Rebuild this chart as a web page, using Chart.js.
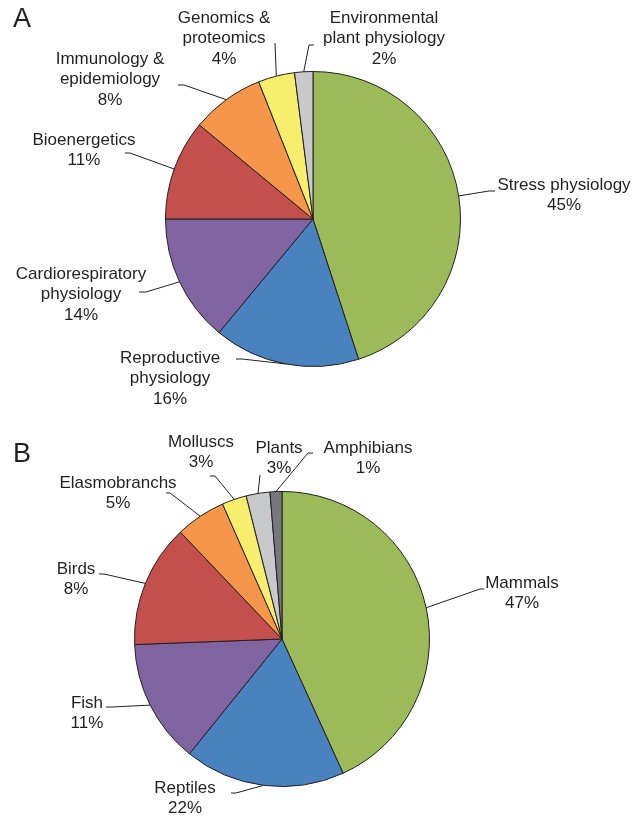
<!DOCTYPE html>
<html>
<head>
<meta charset="utf-8">
<script src="https://cdn.jsdelivr.net/npm/chart.js@4.4.1/dist/chart.umd.min.js"></script>
<style>
  body { margin: 0; background: #fff; }
  .panel { position: absolute; left: 0; }
  .tag { position: absolute; left: 13px; z-index: 2; font: 27px "Liberation Sans", Arial, sans-serif; color: #231f20; }
</style>
</head>
<body>
<div class="tag" style="top:3px">A</div>
<canvas id="chartA" class="panel" style="top:0"></canvas>
<div class="tag" style="top:438px">B</div>
<canvas id="chartB" class="panel" style="top:410px"></canvas>
<script>
// パネルA：研究分野
const topicsA = [
  ['Stress physiology'],
  ['Reproductive', 'physiology'],
  ['Cardiorespiratory', 'physiology'],
  ['Bioenergetics'],
  ['Immunology &', 'epidemiology'],
  ['Genomics &', 'proteomics'],
  ['Environmental', 'plant physiology'],
];
const valuesA = [45, 16, 14, 11, 8, 4, 2];
const pctA = ['45%', '16%', '14%', '11%', '8%', '4%', '2%'];

// パネルB：対象生物（扇の大きさは図から読み取り、ラベルは図の表記のまま）
const taxaB = [
  ['Mammals'],
  ['Reptiles'],
  ['Fish'],
  ['Birds'],
  ['Elasmobranchs'],
  ['Molluscs'],
  ['Plants'],
  ['Amphibians'],
];
const valuesB = [43.2, 17.6, 13.6, 13.5, 5.5, 2.7, 2.6, 1.3];
const pctB = ['47%', '22%', '11%', '8%', '5%', '3%', '3%', '1%'];

const COLORS = ['#9bbb59', '#4a81bf', '#7f64a1', '#c4504d', '#f5964a', '#f6ee6c', '#c8c9cb', '#77787b'];
const INK = '#231f20';

// 引き出し線の折れ点とラベル位置（各キャンバス内の座標）
const leadersA = [
  [[489, 191], [495, 191]],
  [[242, 359], [236, 359]],
  [[146, 292], [139, 292]],
  [[130, 153], [125, 153]],
  [[184, 85], [178, 85]],
  [[275, 43]],
  [[309, 45], [314, 45]],
];
const textAtA = [[564, 185], [170, 358], [81, 274], [84, 140], [110, 59], [224, 18], [384, 18]];

const leadersB = [
  [[480, 179], [484, 179]],
  [[236, 383], [231, 383]],
  [[112, 297], [106, 297]],
  [[104, 164], [99, 164]],
  [[170, 83], [166, 83]],
  [[215, 66], [210, 66]],
  [[260, 65]],
  [[308, 43], [313, 43]],
];
const textAtB = [[522, 173], [185, 378], [87, 293], [76, 159], [118, 73], [201, 32], [279, 38], [368, 38]];

const callouts = {
  id: 'callouts',
  afterDatasetsDraw(chart, args, opts) {
    const ctx = chart.ctx;
    const arcs = chart.getDatasetMeta(0).data;
    ctx.save();
    ctx.strokeStyle = INK;
    ctx.fillStyle = INK;
    ctx.lineWidth = 1;
    ctx.font = '17px "Liberation Sans", Arial, sans-serif';
    ctx.textAlign = 'center';
    ctx.textBaseline = 'middle';
    arcs.forEach((arc, i) => {
      const p = arc.getProps(['x', 'y', 'startAngle', 'endAngle', 'outerRadius'], true);
      const mid = (p.startAngle + p.endAngle) / 2;
      ctx.beginPath();
      ctx.moveTo(p.x + Math.cos(mid) * p.outerRadius, p.y + Math.sin(mid) * p.outerRadius);
      opts.leaders[i].forEach(([lx, ly]) => ctx.lineTo(lx, ly));
      ctx.stroke();
      const lines = [...chart.data.labels[i], opts.pct[i]];
      const [cx, cy] = opts.textAt[i];
      lines.forEach((t, k) => ctx.fillText(t, cx, cy + k * 20.5));
    });
    ctx.restore();
  },
};

function makePie(id, w, h, labels, values, pad, leaders, textAt, pct) {
  const canvas = document.getElementById(id);
  canvas.style.width = w + 'px';
  canvas.style.height = h + 'px';
  return new Chart(canvas, {
    type: 'pie',
    data: {
      labels: labels,
      datasets: [{
        data: values,
        backgroundColor: COLORS.slice(0, values.length),
        borderColor: INK,
        borderWidth: 1,
      }],
    },
    options: {
      responsive: false,
      animation: false,
      layout: { padding: pad },
      plugins: {
        legend: { display: false },
        tooltip: { enabled: false },
        callouts: { leaders, textAt, pct },
      },
    },
    plugins: [callouts],
  });
}

makePie('chartA', 632, 410, topicsA, valuesA,
  { left: 165, right: 171, top: 71, bottom: 43 }, leadersA, textAtA, pctA);
makePie('chartB', 632, 409, taxaB, valuesB,
  { left: 134, right: 202, top: 81, bottom: 32 }, leadersB, textAtB, pctB);
</script>
</body>
</html>
